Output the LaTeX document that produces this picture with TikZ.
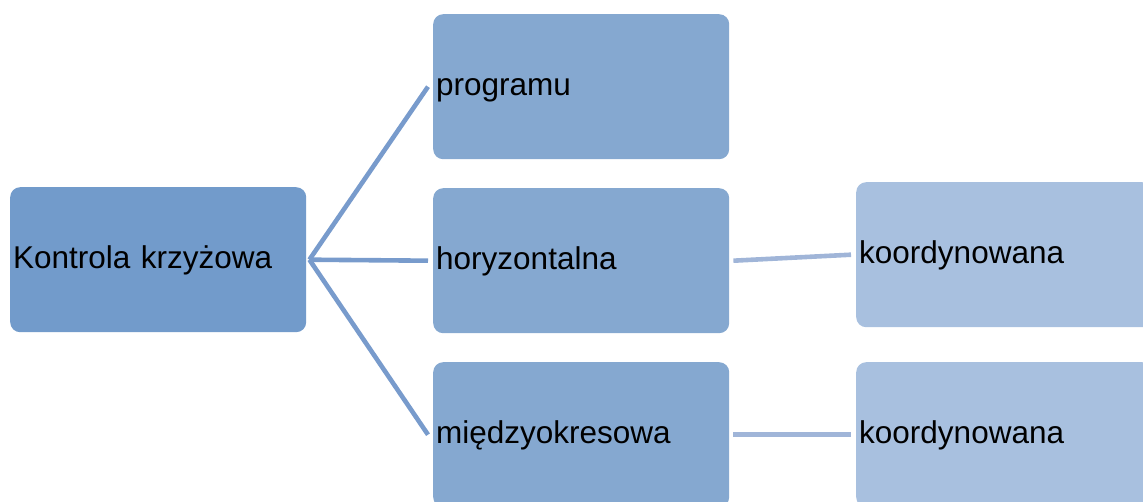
\documentclass[tikz,border=0pt]{standalone}
\usepackage{fontspec}
\setmainfont{Liberation Sans}
\usepackage{tikz}
\usetikzlibrary{positioning}
\definecolor{rootblue}{RGB}{114,155,203}
\definecolor{midblue}{RGB}{133,168,208}
\definecolor{lightblue}{RGB}{168,192,223}
\definecolor{linkdark}{RGB}{120,155,204}
\definecolor{linklight}{RGB}{160,181,216}

\begin{document}
\begin{tikzpicture}[x=1pt,y=-1pt,
    box/.style={rectangle, rounded corners=10pt, anchor=north west,
        minimum width=296pt, minimum height=145pt, text width=290pt,
        inner xsep=3pt, align=left, text height=24pt, text depth=6.5pt,
        font=\fontsize{31.5}{36}\selectfont},
    link/.style={line width=4.6pt}]
    \clip (0,0) rectangle (1143,502);
    \node[box, fill=rootblue] (root) at (10,187) {Kontrola krzyżowa};
    \node[box, fill=midblue] (prog) at (433,14) {programu};
    \node[box, fill=midblue] (hor) at (433,188) {horyzontalna};
    \node[box, fill=midblue] (mid) at (433,362) {międzyokresowa};
    \node[box, fill=lightblue] (korda) at (856,182) {koordynowana};
    \node[box, fill=lightblue] (kordb) at (856,362) {koordynowana};
    \coordinate (hub) at ([xshift=3pt]root.east);
    \draw[link, linkdark] (hub) -- ([xshift=-5pt]prog.west);
    \draw[link, linkdark] (hub) -- ([xshift=-5pt]hor.west);
    \draw[link, linkdark] (hub) -- ([xshift=-5pt]mid.west);
    \draw[link, linklight] ([xshift=4pt]hor.east) -- ([xshift=-5pt]korda.west);
    \draw[link, linklight] ([xshift=4pt]mid.east) -- ([xshift=-5pt]kordb.west);
\end{tikzpicture}
\end{document}
